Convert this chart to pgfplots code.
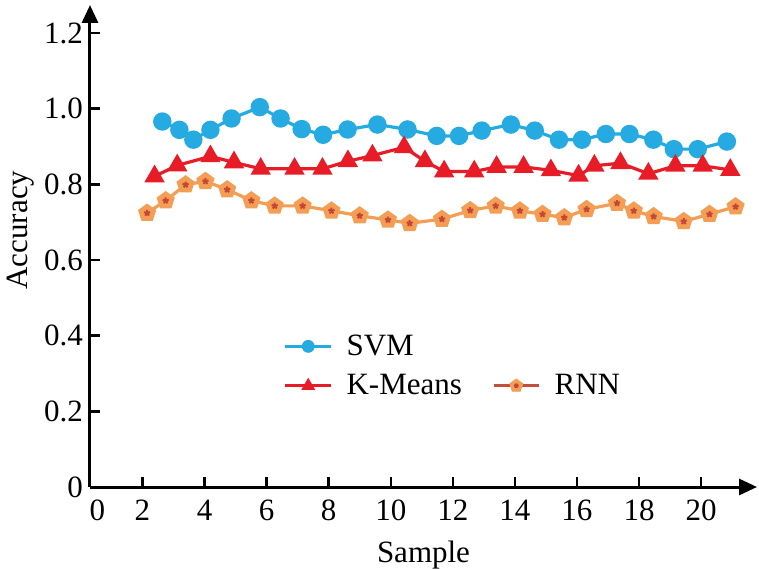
\documentclass[border=0pt]{standalone}
\usepackage{pgfplots}
\pgfplotsset{compat=1.18}
\usepackage{fontspec}
\setmainfont{Liberation Serif}
\usetikzlibrary{arrows.meta}
\definecolor{svmc}{RGB}{38,170,226}
\definecolor{kmc}{RGB}{232,28,38}
\definecolor{rnnc}{RGB}{243,158,84}
\definecolor{rnnin}{RGB}{196,70,55}
\definecolor{rnnleg}{RGB}{192,80,60}
\newcommand{\ff}{\fontsize{15.5}{17}\selectfont}
\begin{document}
\begin{tikzpicture}
\path[use as bounding box] (-45pt,-40.5pt) rectangle (334.5pt,243.5pt);
\begin{axis}[
  at={(0pt,0pt)}, anchor=south west,
  scale only axis, width=333.5pt, height=241pt,
  xmin=0.31, xmax=21.8, ymin=0, ymax=1.274,
  axis lines=left,
  axis line style={line width=1.5pt, -{Triangle[length=9pt,width=8pt]}},
  tick align=inside,
  major tick length=5pt,
  tick style={line width=1.2pt, black},
  xtick={2,4,...,20},
  extra x ticks={0.55},
  extra x tick labels={0},
  extra x tick style={major tick length=0pt},
  ytick={0,0.2,0.4,0.6,0.8,1.0,1.2},
  yticklabels={0,0.2,0.4,0.6,0.8,1.0,1.2},
  /pgf/number format/assume math mode=true,
  ticklabel style={font=\ff},
  xticklabel style={yshift=-3pt},
  label style={font=\ff},
  xlabel={Sample}, ylabel={Accuracy},
  xlabel style={yshift=-3pt},
  ylabel style={at={(ticklabel cs:0.533)}, yshift=-2pt},
  clip=false,
  legend columns=2,
  legend style={at={(axis cs:6.35,0.425)}, anchor=north west, draw=none, fill=none, font=\ff,
    /tikz/every even column/.append style={column sep=8pt}, row sep=4pt,
    nodes={inner xsep=7pt}},
  legend cell align=left,
]
\addplot[forget plot, color=svmc, line width=1.6pt, mark=*, mark size=3.8pt, mark options={fill=svmc, draw=svmc}] coordinates {
(2.64,0.966)(3.19,0.944)(3.64,0.918)(4.19,0.944)(4.87,0.974)(5.78,1.004)(6.45,0.974)(7.13,0.946)(7.82,0.931)(8.61,0.945)(9.57,0.958)(10.54,0.945)(11.48,0.928)(12.2,0.928)(12.93,0.942)(13.87,0.958)(14.64,0.942)(15.42,0.918)(16.16,0.918)(16.93,0.933)(17.69,0.933)(18.46,0.918)(19.12,0.893)(19.89,0.893)(20.83,0.913)
};
\addplot[forget plot, color=kmc, line width=1.6pt, mark=triangle*, mark size=4.3pt, mark options={fill=kmc, draw=kmc}] coordinates {
(2.39,0.821)(3.12,0.850)(4.19,0.874)(4.95,0.858)(5.81,0.841)(6.90,0.841)(7.80,0.841)(8.62,0.861)(9.41,0.876)(10.43,0.898)(11.10,0.861)(11.72,0.834)(12.69,0.834)(13.41,0.846)(14.28,0.846)(15.16,0.837)(16.05,0.823)(16.56,0.849)(17.40,0.856)(18.30,0.828)(19.17,0.849)(20.05,0.849)(20.94,0.838)
};
\addplot[forget plot, color=rnnc, line width=1.6pt, mark=pentagon*, mark size=3.8pt, mark options={fill=rnnc, draw=rnnc}] coordinates {
(2.15,0.724)(2.75,0.757)(3.39,0.799)(4.03,0.808)(4.73,0.786)(5.51,0.757)(6.26,0.743)(7.16,0.743)(8.09,0.730)(9.0,0.717)(9.91,0.706)(10.61,0.697)(11.65,0.708)(12.56,0.731)(13.38,0.743)(14.16,0.730)(14.89,0.721)(15.59,0.712)(16.31,0.734)(17.29,0.750)(17.83,0.730)(18.47,0.715)(19.44,0.702)(20.27,0.721)(21.11,0.741)
};
\addplot[forget plot, only marks, mark=star, mark size=1.6pt, mark options={draw=rnnin, line width=1pt}] coordinates {
(2.15,0.724)(2.75,0.757)(3.39,0.799)(4.03,0.808)(4.73,0.786)(5.51,0.757)(6.26,0.743)(7.16,0.743)(8.09,0.730)(9.0,0.717)(9.91,0.706)(10.61,0.697)(11.65,0.708)(12.56,0.731)(13.38,0.743)(14.16,0.730)(14.89,0.721)(15.59,0.712)(16.31,0.734)(17.29,0.750)(17.83,0.730)(18.47,0.715)(19.44,0.702)(20.27,0.721)(21.11,0.741)
};
\addlegendimage{legend image code/.code={
  \draw[svmc, line width=1.6pt] (0cm,0cm)--(0.8cm,0cm);
  \fill[svmc] (0.4cm,0cm) circle (3pt);}}
\addlegendentry{SVM}
\addlegendimage{empty legend}
\addlegendentry{}
\addlegendimage{legend image code/.code={
  \draw[kmc, line width=1.6pt] (0cm,0cm)--(0.8cm,0cm);
  \draw[kmc] plot[mark=triangle*, mark size=3.6pt, mark options={fill=kmc}] coordinates {(0.4cm,0cm)};}}
\addlegendentry{K-Means}
\addlegendimage{legend image code/.code={
  \draw[rnnleg, line width=1.6pt] (0cm,0cm)--(0.8cm,0cm);
  \draw[rnnc] plot[mark=pentagon*, mark size=3.4pt, mark options={fill=rnnc}] coordinates {(0.4cm,0cm)};
  \fill[rnnin] (0.4cm,0cm) circle (1pt);}}
\addlegendentry{RNN}
\end{axis}
\end{tikzpicture}
\end{document}
